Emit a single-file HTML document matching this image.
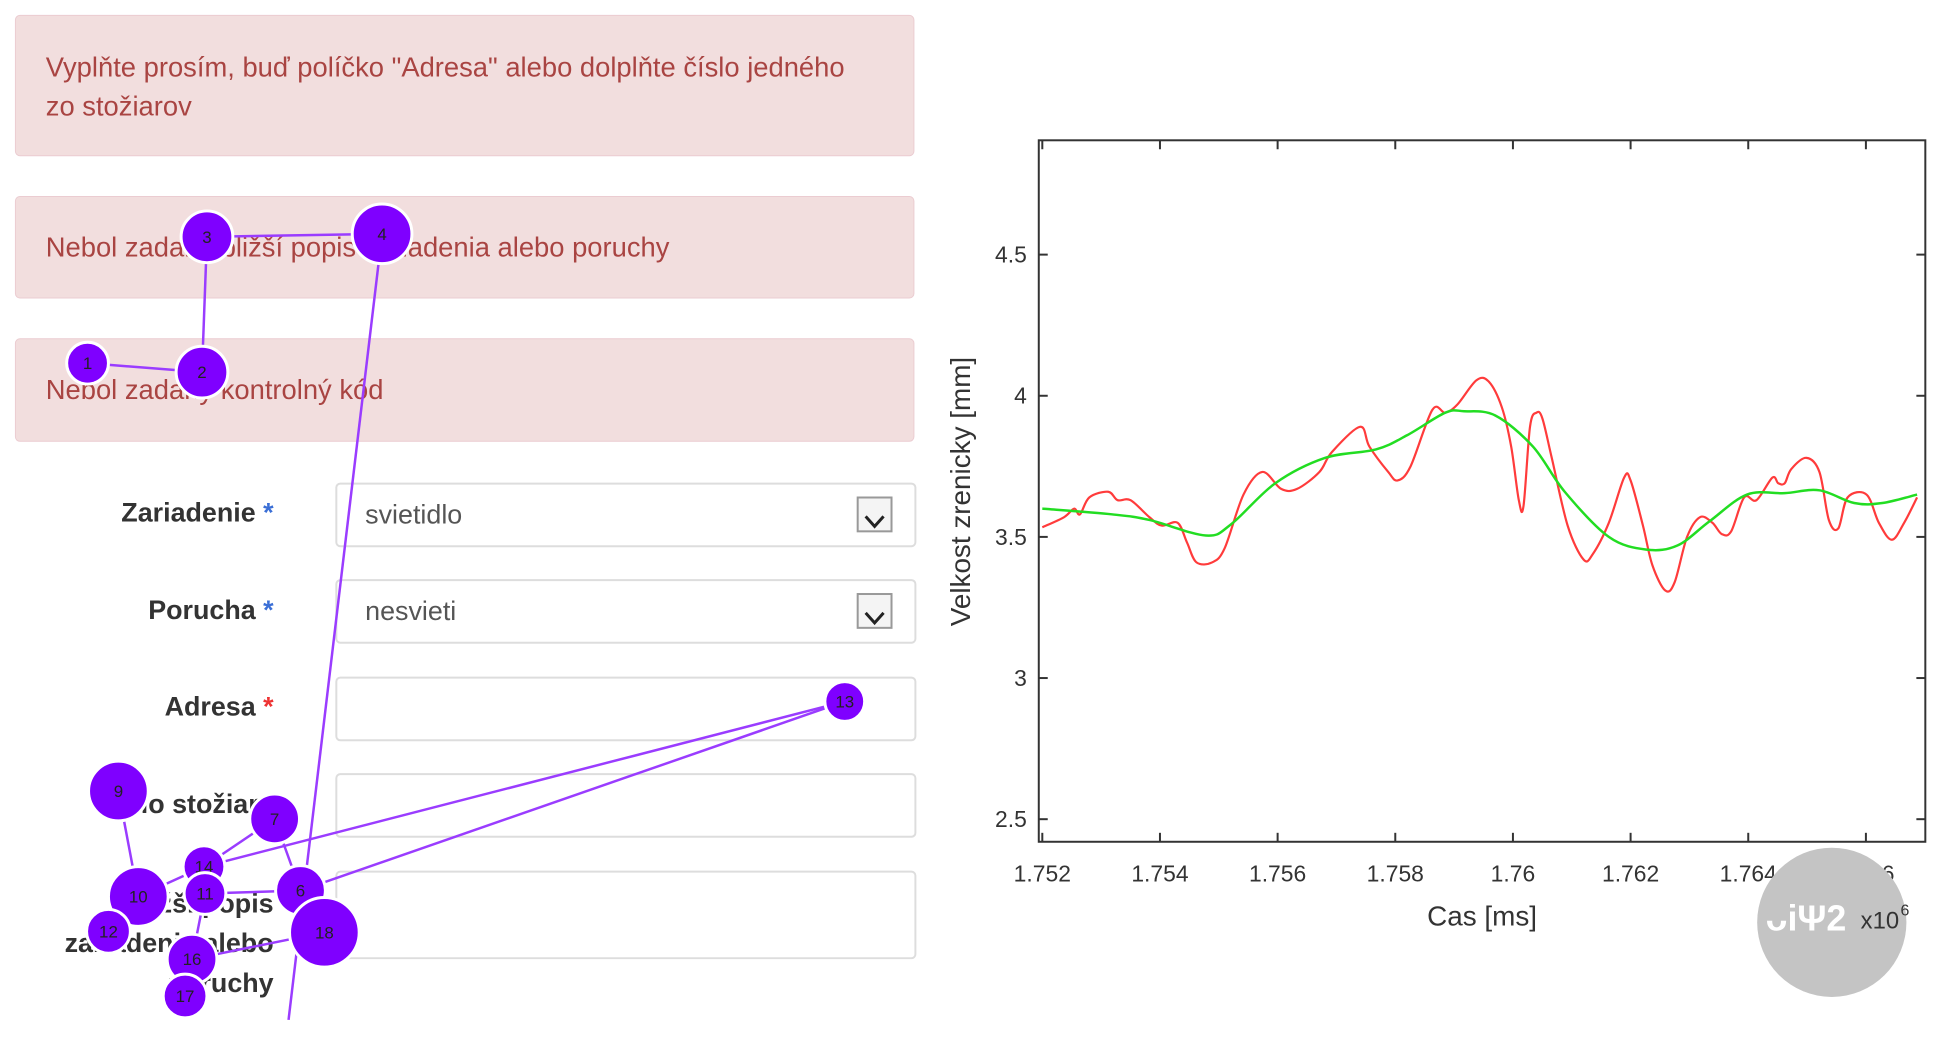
<!DOCTYPE html>
<html><head><meta charset="utf-8"><style>
body{margin:0;width:1950px;height:1038px;background:#fff;overflow:hidden;font-family:"Liberation Sans",sans-serif;position:relative}
#wrap{position:absolute;left:0;top:0;width:1950px;height:1038px;transform:scale(0.995);transform-origin:0 0}
.alert{position:absolute;left:15px;width:904px;background:#f2dede;border:1px solid #ebccd1;border-radius:5px;color:#a94442;font-size:27.5px;box-sizing:border-box;padding-left:30px}
.lbl{position:absolute;right:1675px;font-weight:bold;font-size:27px;color:#333;text-align:right;white-space:nowrap}
.lbl b{color:#3b6fd6}
.fld{position:absolute;left:337px;width:584px;border:2px solid #ddd;border-radius:5px;box-sizing:border-box;font-size:27px;color:#555;padding-left:28px}
.dd{position:absolute;right:22px;top:12px;width:36px;height:36px;border:2px solid #999;background:#f4f4f4;box-sizing:border-box}
</style></head><body><div id="wrap">
<div class="alert" style="top:15px;height:142px;padding-top:32px;line-height:39px">Vyplňte prosím, buď políčko "Adresa" alebo dolplňte číslo jedného<br>zo stožiarov</div>
<div class="alert" style="top:197px;height:103px;line-height:101px">Nebol zadaný bližší popis zariadenia alebo poruchy</div>
<div class="alert" style="top:340px;height:104px;line-height:102px">Nebol zadaný kontrolný kód</div>
<div class="lbl" style="top:500px">Zariadenie <b>*</b></div>
<div class="lbl" style="top:598px">Porucha <b>*</b></div>
<div class="lbl" style="top:695px">Adresa <b style="color:#e33">*</b></div>
<div class="lbl" style="top:793px">Číslo stožiara</div>
<div class="lbl" style="top:888px;line-height:40px">Bližší popis<br>zariadenia alebo<br>poruchy</div>
<div class="fld" style="top:485px;height:65px;line-height:61px">svietidlo<div class="dd"><svg width="32" height="32"><path d="M7 11 L16 21 L25 11" stroke="#222" stroke-width="3" fill="none"/></svg></div></div>
<div class="fld" style="top:582px;height:65px;line-height:61px">nesvieti<div class="dd"><svg width="32" height="32"><path d="M7 11 L16 21 L25 11" stroke="#222" stroke-width="3" fill="none"/></svg></div></div>
<div class="fld" style="top:680px;height:65px"></div>
<div class="fld" style="top:777px;height:65px"></div>
<div class="fld" style="top:875px;height:89px"></div>

<svg id="gaze" width="950" height="1038" style="position:absolute;left:0;top:0"></svg>
<svg id="chart" width="1950" height="1038" style="position:absolute;left:0;top:0"></svg>
</div>
<script>
// gaze fixations
const fixIds=[1,2,3,4,13,9,7,14,11,10,6,12,18,16,17];
const fixX=[88,203,208,384,849,119,276,205,206,139,302,109,326,193,186];
const fixY=[365,374,238,235,705,795,823,871,898,901,895,936,937,964,1001];
const fixR=[21,26,26,30,20,30,25,21,21,30,25,22,35,25,22];
const gz=document.getElementById('gaze');
const NS='http://www.w3.org/2000/svg';
function P(i){return [fixX[fixIds.indexOf(i)],fixY[fixIds.indexOf(i)]];}
const links=[[1,2],[2,3],[3,4],[13,14],[13,6],[7,14],[7,6],[9,10],[14,10],[11,6],[11,16],[16,18]];
links.forEach(l=>{const a=P(l[0]),b=P(l[1]);const e=document.createElementNS(NS,'line');
e.setAttribute('x1',a[0]);e.setAttribute('y1',a[1]);e.setAttribute('x2',b[0]);e.setAttribute('y2',b[1]);
e.setAttribute('stroke','#9a3cff');e.setAttribute('stroke-width','2.5');


gz.appendChild(e);});
{const a=P(4);const e=document.createElementNS(NS,'line');e.setAttribute('x1',a[0]);e.setAttribute('y1',a[1]);e.setAttribute('x2',290);e.setAttribute('y2',1025);e.setAttribute('stroke','#9a3cff');e.setAttribute('stroke-width','2.5');


gz.appendChild(e);}
fixIds.forEach((id,i)=>{const c=document.createElementNS(NS,'circle');c.setAttribute('cx',fixX[i]);c.setAttribute('cy',fixY[i]);c.setAttribute('r',fixR[i]);c.setAttribute('fill','#7f00ff');c.setAttribute('stroke','#fff');c.setAttribute('stroke-width','3');


gz.appendChild(c);
const t=document.createElementNS(NS,'text');t.setAttribute('x',fixX[i]);t.setAttribute('y',fixY[i]+6);t.setAttribute('text-anchor','middle');t.setAttribute('font-size','17');t.setAttribute('fill','#222');t.textContent=id;


gz.appendChild(t);});

// chart data
const redT=[1.7520,1.75237,1.75254,1.75264,1.7528,1.75312,1.75328,1.7535,1.75382,1.75403,1.7543,1.75446,1.75462,1.75489,1.7551,1.75542,1.75574,1.75606,1.75633,1.75671,1.75692,1.7574,1.75756,1.75788,1.75804,1.75826,1.75863,1.75885,1.75906,1.75938,1.75959,1.75981,1.75997,1.7601,1.76018,1.76029,1.7604,1.7605,1.76066,1.76093,1.7612,1.76136,1.76163,1.76189,1.762,1.76221,1.76237,1.76259,1.76275,1.76296,1.76318,1.76339,1.76355,1.76371,1.76393,1.76414,1.76441,1.76451,1.76462,1.76473,1.76499,1.76521,1.76537,1.76553,1.76569,1.76601,1.76622,1.76644,1.76665,1.76687];
const redV=[3.534,3.57,3.60,3.58,3.64,3.66,3.63,3.63,3.57,3.54,3.55,3.48,3.41,3.41,3.46,3.65,3.73,3.67,3.67,3.73,3.80,3.89,3.82,3.73,3.70,3.75,3.95,3.94,3.97,4.055,4.05,3.96,3.82,3.63,3.61,3.89,3.94,3.92,3.78,3.54,3.42,3.44,3.55,3.71,3.70,3.54,3.40,3.31,3.34,3.50,3.57,3.55,3.51,3.52,3.64,3.63,3.71,3.69,3.69,3.74,3.78,3.73,3.56,3.53,3.64,3.65,3.55,3.49,3.55,3.64];
const greenT=[1.752,1.75318,1.75382,1.75478,1.75521,1.75596,1.75681,1.75767,1.7582,1.75885,1.75917,1.7597,1.76034,1.76088,1.76163,1.76227,1.7628,1.76334,1.76398,1.76462,1.76521,1.7658,1.76628,1.76687];
const greenV=[3.60,3.58,3.56,3.505,3.545,3.69,3.78,3.81,3.86,3.94,3.945,3.93,3.82,3.66,3.50,3.455,3.47,3.555,3.65,3.655,3.665,3.62,3.62,3.65];
const xTicks=[1.752,1.754,1.756,1.758,1.76,1.762,1.764,1.766];
const xTickLabels=['1.752','1.754','1.756','1.758','1.76','1.762','1.764','1.766'];
const yTicks=[2.5,3,3.5,4,4.5];
const yTickLabels=['2.5','3','3.5','4','4.5'];

const L=1044,R=1935,T=141,B=846,X0=1.75194,X1=1.76701,Y0=2.42,Y1=4.905;
const sx=v=>L+(v-X0)/(X1-X0)*(R-L), sy=v=>B-(v-Y0)/(Y1-Y0)*(B-T);
const ch=document.getElementById('chart');
function el(tag,attrs,name,txt){const e=document.createElementNS(NS,tag);for(const k in attrs)e.setAttribute(k,attrs[k]);


if(txt!==undefined)e.textContent=txt;ch.appendChild(e);return e;}
el('rect',{x:L,y:T,width:R-L,height:B-T,fill:'#fff',stroke:'#333','stroke-width':2},'plot-area');
xTicks.forEach((v,i)=>{const x=sx(v);
el('line',{x1:x,y1:B,x2:x,y2:B-9,stroke:'#333','stroke-width':2},'x-tick');
el('line',{x1:x,y1:T,x2:x,y2:T+9,stroke:'#333','stroke-width':2},'x-tick-top');
el('text',{x:x,y:B+40,'text-anchor':'middle','font-size':23,fill:'#333'},'x-tick-label',xTickLabels[i]);});
yTicks.forEach((v,i)=>{const y=sy(v);
el('line',{x1:L,y1:y,x2:L+9,y2:y,stroke:'#333','stroke-width':2},'y-tick');
el('line',{x1:R,y1:y,x2:R-9,y2:y,stroke:'#333','stroke-width':2},'y-tick-right');
el('text',{x:L-12,y:y+8,'text-anchor':'end','font-size':23,fill:'#333'},'y-tick-label',yTickLabels[i]);});
function path(ts,vs){const p=ts.map((t,i)=>[sx(t),sy(vs[i])]);let d='M'+p[0][0]+','+p[0][1];
for(let i=0;i<p.length-1;i++){const a=p[Math.max(i-1,0)],b=p[i],c=p[i+1],e=p[Math.min(i+2,p.length-1)];
d+=` C${b[0]+(c[0]-a[0])/6},${b[1]+(c[1]-a[1])/6} ${c[0]-(e[0]-b[0])/6},${c[1]-(e[1]-b[1])/6} ${c[0]},${c[1]}`;}return d;}
el('path',{d:path(redT,redV),fill:'none',stroke:'#ff3b3b','stroke-width':2.2},'raw-pupil-line');
el('path',{d:path(greenT,greenV),fill:'none',stroke:'#22dd22','stroke-width':2.5},'smoothed-pupil-line');
el('text',{x:(L+R)/2,y:930,'text-anchor':'middle','font-size':28,fill:'#333'},'x-axis-title','Cas [ms]');
el('text',{x:975,y:494,'text-anchor':'middle','font-size':28,fill:'#333',transform:'rotate(-90 975 494)'},'y-axis-title','Velkost zrenicky [mm]');
el('circle',{cx:1841,cy:927,r:75,fill:'#c4c4c4'},'watermark');
el('text',{x:1815,y:935,'text-anchor':'middle','font-size':36,'font-weight':'bold',fill:'#fff'},'watermark-logo','ᴗiΨ2');
el('text',{x:1870,y:933,'font-size':24,fill:'#333'},'x-exponent','x10');
el('text',{x:1910,y:920,'font-size':16,fill:'#333'},'x-exponent-power','6');
</script>
</body></html>
